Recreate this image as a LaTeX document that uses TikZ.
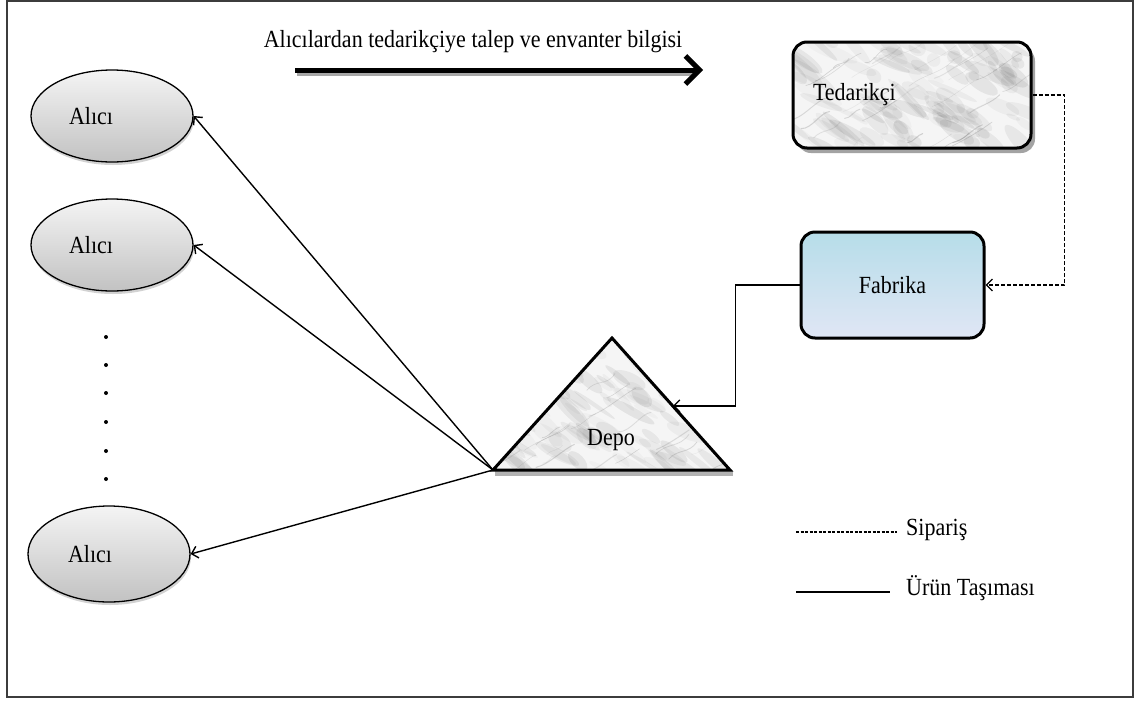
\documentclass[tikz,border=0pt]{standalone}
\usepackage{fontspec}
\setmainfont{Liberation Serif}
\usetikzlibrary{arrows.meta,shapes.geometric,shadows,calc}

\definecolor{frameline}{HTML}{3C3C3C}
\definecolor{fabtop}{HTML}{B6DDE9}
\definecolor{fabmid}{HTML}{C4CEEE}
\definecolor{fabbot}{HTML}{E0E6F5}
\definecolor{ovaltop}{HTML}{F4F4F4}
\definecolor{ovalbot}{HTML}{C2C2C2}

% slightly tall lettering
\newcommand{\tall}[1]{\scalebox{1}[1.12]{#1}}

\tikzset{
  % white marble surface: light base, soft grey clouds and thin veins
  marble/.style 2 args={fill=black!4, path picture={
      \foreach \k in {1,...,110}{
        \pgfmathsetmacro\fx{rnd*#1}
        \pgfmathsetmacro\fy{rnd*#2}
        \pgfmathsetmacro\rx{6+rnd*22}
        \pgfmathsetmacro\ry{2+rnd*6}
        \pgfmathsetmacro\rot{-20-rnd*30}
        \pgfmathsetmacro\op{0.02+rnd*0.05}
        \fill[black, opacity=\op] ($(path picture bounding box.north west)+(\fx,\fy)$)
          ellipse [x radius=\rx, y radius=\ry, rotate=\rot];
      }
      \foreach \k in {1,...,35}{
        \pgfmathsetmacro\fx{rnd*#1-20}
        \pgfmathsetmacro\fy{rnd*#2+10}
        \pgfmathsetmacro\len{12+rnd*35}
        \pgfmathsetmacro\wig{rand*8}
        \pgfmathsetmacro\lw{0.3+rnd*0.8}
        \pgfmathsetmacro\op{0.08+rnd*0.18}
        \draw[black!60, line width=\lw pt, opacity=\op, line cap=round]
          ($(path picture bounding box.north west)+(\fx,\fy)$)
          .. controls +(\len*0.35,-\len*0.2+\wig) and +(-\len*0.3,\len*0.25-\wig) .. +(\len,-\len*0.6);
      }}},
  alici/.style={ellipse, draw=black, line width=1.3pt, minimum width=162pt,
    minimum height=92pt, top color=ovaltop, bottom color=ovalbot,
    drop shadow={shadow xshift=1pt, shadow yshift=-3pt, fill=black!35, opacity=0.5}},
  roundbox/.style={rectangle, rounded corners=14pt, draw=black, line width=3pt},
  flow/.style={line width=1.4pt, -{Straight Barb[length=6pt,width=12pt]}},
  order/.style={line width=1.3pt, dash pattern=on 4pt off 2pt, -{Straight Barb[length=6pt,width=12pt]}},
  lbl/.style={font=\fontsize{22}{26}\selectfont, inner sep=0pt},
  dot/.style={circle, fill=black, inner sep=0pt, minimum size=4pt},
}

\begin{document}
\begin{tikzpicture}[x=1pt, y=-1pt]
\pgfmathsetseed{3}
\useasboundingbox (0,0) rectangle (1135,702);
\draw[frameline, line width=2pt] (7,1) rectangle (1133,697);

% information flow arrow at the top
\node[lbl] (info) at (473,42) {\tall{Alıcılardan tedarikçiye talep ve envanter bilgisi}};
\coordinate (is) at (295,70);
\coordinate (ie) at (703,70);
\draw[black!35, line width=5pt] ($(is)+(2,3)$) -- ($(ie)+(-8,3)$);
\draw[line width=5pt, -{Straight Barb[length=14pt,width=28pt]}] (is) -- (ie);

% buyers
\node[alici, label={[lbl, xshift=-21pt]center:\tall{Alıcı}}] (a1) at (112,116) {};
\node[alici, label={[lbl, xshift=-21pt]center:\tall{Alıcı}}] (a2) at (112,245) {};
\node[alici, minimum height=96pt, label={[lbl, xshift=-19pt]center:\tall{Alıcı}}] (a3) at (109,554) {};
\foreach \yy [count=\i] in {337,365,393,422,451,479}
  \node[dot] (d\i) at (106,\yy) {};

% supplier
\node[roundbox, marble={238}{106}, minimum height=106pt, text width=198pt,
  inner xsep=20pt, align=left, font=\fontsize{22}{26}\selectfont,
  drop shadow={shadow xshift=4pt, shadow yshift=-5pt, fill=black!45, opacity=0.8}]
  (ted) at (912,95) {\tall{Tedarikçi}};

% factory
\node[roundbox, minimum width=183pt, minimum height=106pt,
  top color=fabtop, middle color=fabmid, bottom color=fabbot,
  font=\fontsize{22}{26}\selectfont] (fab) at (892.5,285) {\tall{Fabrika}};

% warehouse
\coordinate (apex) at (612,338);
\coordinate (dl) at (493,470);
\coordinate (dr) at (730,470);
\fill[black!30] (495,470) rectangle (733,476);
\draw[marble={237}{132}, line width=3pt, line join=miter] (apex) -- (dr) -- (dl) -- cycle;
\node[lbl] (depo) at (611,440) {\tall{Depo}};
\coordinate (din) at ($(apex)!0.515!(dr)$);

% product transport
\draw[flow] (fab.west) -- ++(-64,0) |- (din);
\draw[flow] (dl) -- (a1.east);
\draw[flow] (dl) -- (a2.east);
\draw[flow] (dl) -- (a3.east);

% orders
\draw[order] (ted.east) -- ++(32,0) |- (fab.east);

% legend
\coordinate (ld1) at (796,532);
\coordinate (ld2) at (897,532);
\coordinate (ls1) at (796,592);
\coordinate (ls2) at (890,592);
\draw[line width=1.2pt, dash pattern=on 3pt off 1.5pt] (ld1) -- (ld2);
\draw[line width=1.3pt] (ls1) -- (ls2);
\node[lbl, anchor=west] (lsip) at (906,530) {\tall{Sipariş}};
\node[lbl, anchor=west] (lurun) at (906,588) {\tall{Ürün Taşıması}};
\end{tikzpicture}
\end{document}
